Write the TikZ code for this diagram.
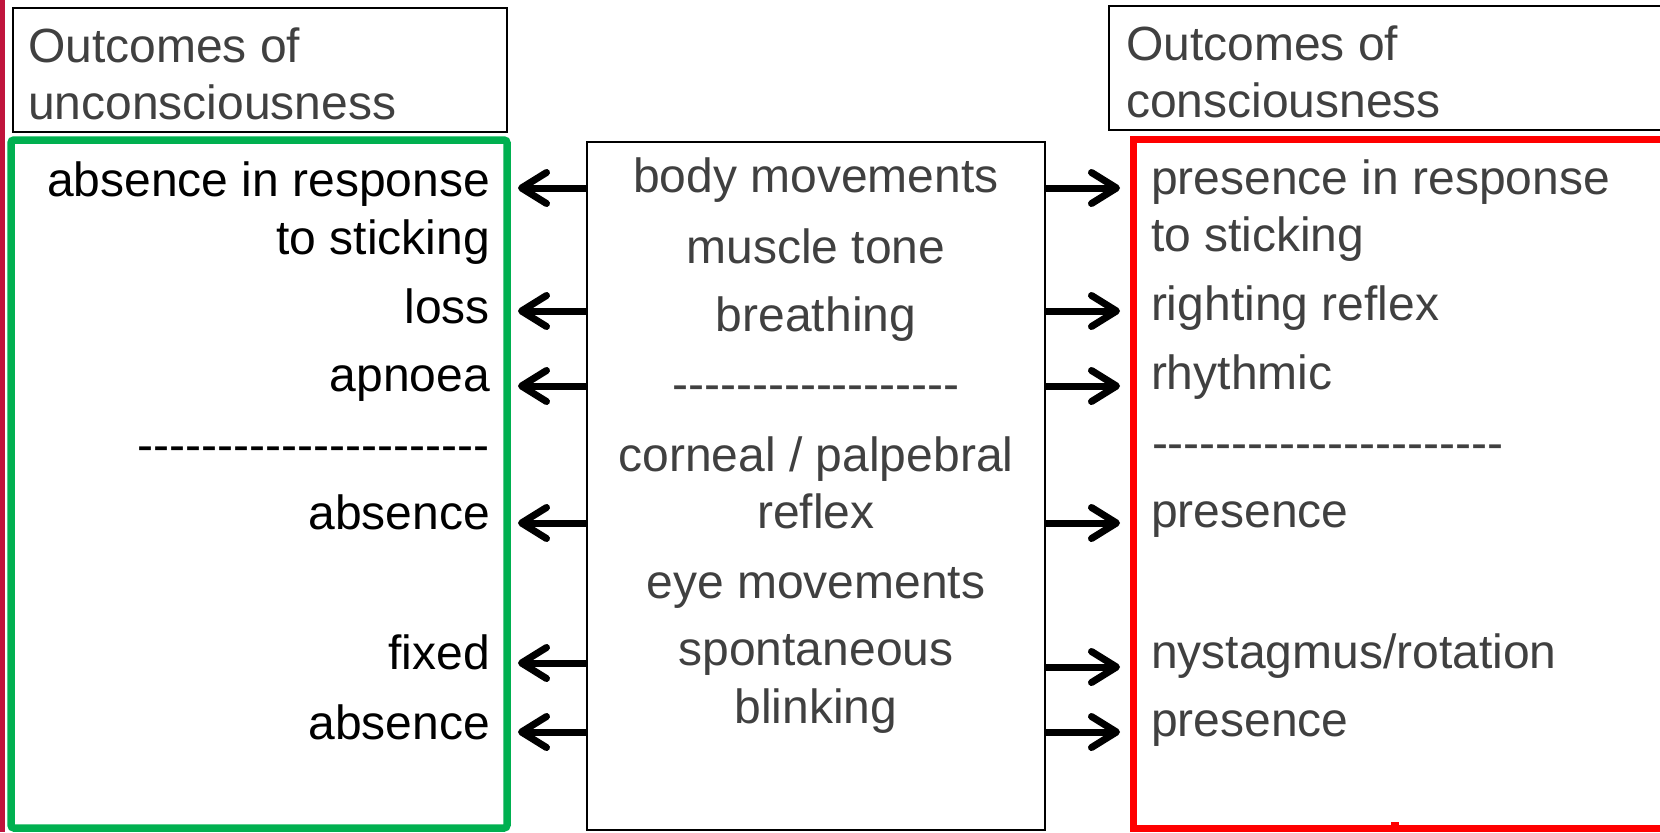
\documentclass[tikz,border=0pt]{standalone}
\usepackage{fontspec}
\setmainfont{Liberation Sans}
\usetikzlibrary{arrows.meta}
\definecolor{txtgray}{HTML}{404040}
\definecolor{boxgreen}{HTML}{00B050}
\definecolor{boxred}{HTML}{FF0000}
\definecolor{edgecrimson}{HTML}{C0143C}
% a row of separate hyphens (kerns keep them from forming dashes)
\newcommand\hyphenrow[1]{\foreach\k in {1,...,#1}{-\kern0pt}}
\begin{document}
\begin{tikzpicture}[x=0.5pt,y=-0.5pt,
  lbl/.style={font=\fontsize{24}{28}\selectfont, inner sep=0pt, outer sep=0pt},
  lefttxt/.style={lbl, anchor=base east, text=black},
  righttxt/.style={lbl, anchor=base west, text=txtgray},
  midtxt/.style={lbl, anchor=base, text=txtgray},
  hdrtxt/.style={lbl, anchor=base west, text=txtgray},
  framebox/.style={draw, inner sep=0pt, outer sep=0pt},
  arr/.style={line width=3.5pt, -{Straight Barb[round, length=12.5pt, width=15.5pt]}}]
\useasboundingbox (0,0) rectangle (1660,832);

% thin crimson strip on the left edge
\fill[edgecrimson] (0,0) rectangle (5,832);

% header boxes
\node[framebox, line width=1pt, minimum width=247pt, minimum height=62pt] (lhdr) at (260,70) {};
\node[framebox, line width=1pt, minimum width=286pt, minimum height=62pt] (rhdr) at (1395,68) {};
\node[hdrtxt] (lh1) at (28,62) {Outcomes of};
\node[hdrtxt] (lh2) at (28,119) {unconsciousness};
\node[hdrtxt] (rh1) at (1126,60) {Outcomes of};
\node[hdrtxt] (rh2) at (1126,117) {consciousness};

% outcome boxes and the central list
\node[framebox, draw=boxgreen, line width=3.75pt, rounded corners=1.5pt,
      minimum width=248pt, minimum height=344pt] (green) at (259,484) {};
\node[framebox, draw=boxred, line width=3.5pt,
      minimum width=284pt, minimum height=344.5pt] (red) at (1417,483.5) {};
\fill[boxred] (1391,822) rectangle (1399,826);
\node[framebox, line width=1pt, minimum width=229pt, minimum height=344pt] (ctr) at (816,486) {};

% central signs
\node[midtxt] (c1) at (816,192) {body movements};
\node[midtxt] (c2) at (816,263) {muscle tone};
\node[midtxt] (c3) at (816,331) {breathing};
\node[midtxt] (c4) at (816,400) {\hyphenrow{18}};
\node[midtxt] (c5) at (816,471) {corneal / palpebral};
\node[midtxt] (c6) at (816,528) {reflex};
\node[midtxt] (c7) at (816,598) {eye movements};
\node[midtxt] (c8) at (816,665) {spontaneous};
\node[midtxt] (c9) at (816,723) {blinking};

% unconsciousness outcomes
\node[lefttxt] (l1) at (490,196) {absence in response};
\node[lefttxt] (l2) at (490,254) {to sticking};
\node[lefttxt] (l3) at (490,323) {loss};
\node[lefttxt] (l4) at (490,391) {apnoea};
\node[lefttxt] (l5) at (489,461) {\hyphenrow{22}};
\node[lefttxt] (l6) at (490,529) {absence};
\node[lefttxt] (l7) at (490,669) {fixed};
\node[lefttxt] (l8) at (490,739) {absence};

% consciousness outcomes
\node[righttxt] (r1) at (1151,194) {presence in response};
\node[righttxt] (r2) at (1151,251) {to sticking};
\node[righttxt] (r3) at (1151,320) {righting reflex};
\node[righttxt] (r4) at (1151,389) {rhythmic};
\node[righttxt] (r5) at (1152,459) {\hyphenrow{22}};
\node[righttxt] (r6) at (1151,527) {presence};
\node[righttxt] (r7) at (1151,668) {nystagmus/rotation};
\node[righttxt] (r8) at (1151,736) {presence};

% arrows out of the central box
\foreach \y [count=\i] in {188,311,386,523,663,732} {
  \coordinate (L\i) at (518,\y);
  \draw[arr] (ctr.west |- L\i) -- (L\i);
}
\foreach \y [count=\i] in {188,311,386,523,667,732} {
  \coordinate (R\i) at (1120,\y);
  \draw[arr] (ctr.east |- R\i) -- (R\i);
}
\end{tikzpicture}
\end{document}
